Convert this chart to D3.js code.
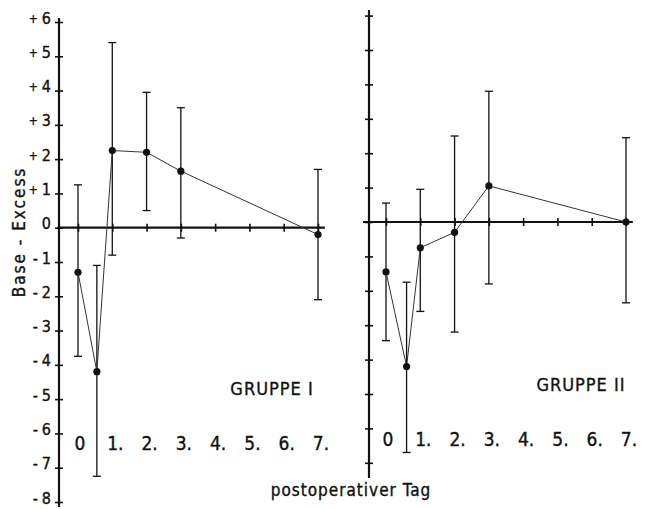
<!DOCTYPE html>
<html>
<head>
<meta charset="utf-8">
<script src="https://cdn.jsdelivr.net/npm/d3@7"></script>
<style>
  html, body { margin: 0; padding: 0; background: #fff; }
  svg { display: block; }
  text {
    font-family: 'DejaVu Sans Condensed', 'DejaVu Sans', sans-serif;
    font-stretch: condensed;
    fill: #111;
    stroke: #111;
    stroke-width: 0.35px;
  }
</style>
</head>
<body>
<svg id="chart" width="648" height="509"></svg>
<script>
// Postoperative days (0.55 / 0.6 = measurement at the end of surgery)
const daysI  = [0, 0.55, 1, 2, 3, 7];
const daysII = [0, 0.6, 1, 2, 3, 7];

// Base excess, mean and spread (upper / lower end of each bar), mmol/l
const meanI  = [-1.3, -4.2, 2.25, 2.2, 1.65, -0.2];
const upperI = [1.25, -1.1, 5.4, 3.95, 3.5, 1.7];
const lowerI = [-3.75, -7.25, -0.8, 0.5, -0.3, -2.1];

const meanII  = [-1.45, -4.2, -0.75, -0.3, 1.05, 0.0];
const upperII = [0.55, -1.75, 0.95, 2.5, 3.8, 2.45];
const lowerII = [-3.45, -6.7, -2.6, -3.2, -1.8, -2.35];

// Tick labels
const dayTicks = [0, 1, 2, 3, 4, 5, 6, 7];
const dayLabels = ["0", "1.", "2.", "3.", "4.", "5.", "6.", "7."];
const yTicksI  = [6, 5, 4, 3, 2, 1, 0, -1, -2, -3, -4, -5, -6, -7, -8];
const yTicksII = [6, 5, 4, 3, 2, 1, 0, -1, -2, -3, -4, -5, -6, -7];

const groupNames = ["GRUPPE I", "GRUPPE II"];
const yTitle = "Base - Excess";
const xTitle = "postoperativer Tag";

const svg = d3.select("#chart");
const ink = "#111";

const panels = [
  {
    days: daysI, mean: meanI, upper: upperI, lower: lowerI, yTicks: yTicksI,
    name: groupNames[0], labels: true,
    axisX: 59, axisTop: 18, axisBottom: 507,
    x: d3.scaleLinear().domain([0, 7]).range([78, 318]),
    y: d3.scaleLinear().domain([-8, 6]).range([502, 22]),
    xExtent: [-0.6, 7.2],
    tickLabelY: 450, nameX: 272, nameY: 395
  },
  {
    days: daysII, mean: meanII, upper: upperII, lower: lowerII, yTicks: yTicksII,
    name: groupNames[1], labels: false,
    axisX: 369, axisTop: 10, axisBottom: 478,
    x: d3.scaleLinear().domain([0, 7]).range([386, 626]),
    y: d3.scaleLinear().domain([-8, 6]).range([497.2, 15.6]),
    xExtent: [-0.67, 7.2],
    tickLabelY: 446, nameX: 581, nameY: 391
  }
];

panels.forEach(p => {
  const g = svg.append("g");

  // vertical value axis with crossing tick marks
  const yAxis = d3.axisLeft(p.y)
    .tickValues(p.yTicks)
    .tickSize(4)
    .tickFormat("");
  const ya = g.append("g")
    .attr("transform", `translate(${p.axisX},0)`)
    .call(yAxis);
  ya.select(".domain").remove();
  ya.selectAll(".tick line").attr("x1", 4).attr("stroke", ink).attr("stroke-width", 1.6);
  g.append("line")
    .attr("x1", p.axisX).attr("x2", p.axisX)
    .attr("y1", p.axisTop).attr("y2", p.axisBottom)
    .attr("stroke", ink).attr("stroke-width", 2.2);

  if (p.labels) {
    p.yTicks.forEach(v => {
      const t = g.append("text")
        .attr("x", p.axisX - 8)
        .attr("y", p.y(v) + 1.5)
        .attr("text-anchor", "end")
        .attr("font-size", 16);
      if (v > 0) {
        t.append("tspan").attr("font-size", 12).attr("dy", -1).text("+");
        t.append("tspan").attr("dy", 1).attr("dx", 4).text(v);
      } else if (v < 0) {
        t.append("tspan").text("-");
        t.append("tspan").attr("dx", 4).text(Math.abs(v));
      } else {
        t.text("0");
      }
    });
  }

  // zero line with day ticks
  const zeroY = p.y(0);
  const xAxis = d3.axisBottom(p.x)
    .tickValues(dayTicks)
    .tickSize(4)
    .tickFormat("");
  const xa = g.append("g")
    .attr("transform", `translate(0,${zeroY})`)
    .call(xAxis);
  xa.select(".domain").remove();
  xa.selectAll(".tick line").attr("y1", -4).attr("stroke", ink).attr("stroke-width", 1.6);
  g.append("line")
    .attr("x1", p.x(p.xExtent[0])).attr("x2", p.x(p.xExtent[1]))
    .attr("y1", zeroY).attr("y2", zeroY)
    .attr("stroke", ink).attr("stroke-width", 2.2);

  // day labels below the plot
  g.selectAll(".daylab")
    .data(dayTicks)
    .join("text")
    .attr("class", "daylab")
    .attr("x", d => p.x(d) + (d === 0 ? 2 : 3))
    .attr("y", p.tickLabelY)
    .attr("text-anchor", "middle")
    .attr("font-size", 19)
    .text((d, i) => dayLabels[i]);

  // error bars
  const cap = 4;
  const bars = g.selectAll(".bar")
    .data(p.days.map((d, i) => ({ d, hi: p.upper[i], lo: p.lower[i] })))
    .join("g").attr("class", "bar");
  bars.append("line")
    .attr("x1", e => p.x(e.d)).attr("x2", e => p.x(e.d))
    .attr("y1", e => p.y(e.hi)).attr("y2", e => p.y(e.lo))
    .attr("stroke", ink).attr("stroke-width", 1.3);
  bars.append("line")
    .attr("x1", e => p.x(e.d) - cap).attr("x2", e => p.x(e.d) + cap)
    .attr("y1", e => p.y(e.hi)).attr("y2", e => p.y(e.hi))
    .attr("stroke", ink).attr("stroke-width", 1.3);
  bars.append("line")
    .attr("x1", e => p.x(e.d) - cap).attr("x2", e => p.x(e.d) + cap)
    .attr("y1", e => p.y(e.lo)).attr("y2", e => p.y(e.lo))
    .attr("stroke", ink).attr("stroke-width", 1.3);

  // mean course
  const pts = p.days.map((d, i) => [d, p.mean[i]]);
  g.append("path")
    .datum(pts)
    .attr("d", d3.line().x(q => p.x(q[0])).y(q => p.y(q[1])))
    .attr("fill", "none")
    .attr("stroke", "#333")
    .attr("stroke-width", 1);
  g.selectAll(".pt")
    .data(pts)
    .join("circle")
    .attr("class", "pt")
    .attr("cx", q => p.x(q[0]))
    .attr("cy", q => p.y(q[1]))
    .attr("r", 3.6)
    .attr("fill", ink);

  g.append("text")
    .attr("x", p.nameX)
    .attr("y", p.nameY)
    .attr("text-anchor", "middle")
    .attr("font-size", 18)
    .attr("letter-spacing", 1)
    .text(p.name);
});

// axis titles
svg.append("text")
  .attr("transform", "translate(25,232) rotate(-90)")
  .attr("text-anchor", "middle")
  .attr("font-size", 17)
  .attr("letter-spacing", 2)
  .text(yTitle);

svg.append("text")
  .attr("x", 351)
  .attr("y", 496)
  .attr("text-anchor", "middle")
  .attr("font-size", 17)
  .attr("letter-spacing", 1)
  .text(xTitle);
</script>
</body>
</html>
